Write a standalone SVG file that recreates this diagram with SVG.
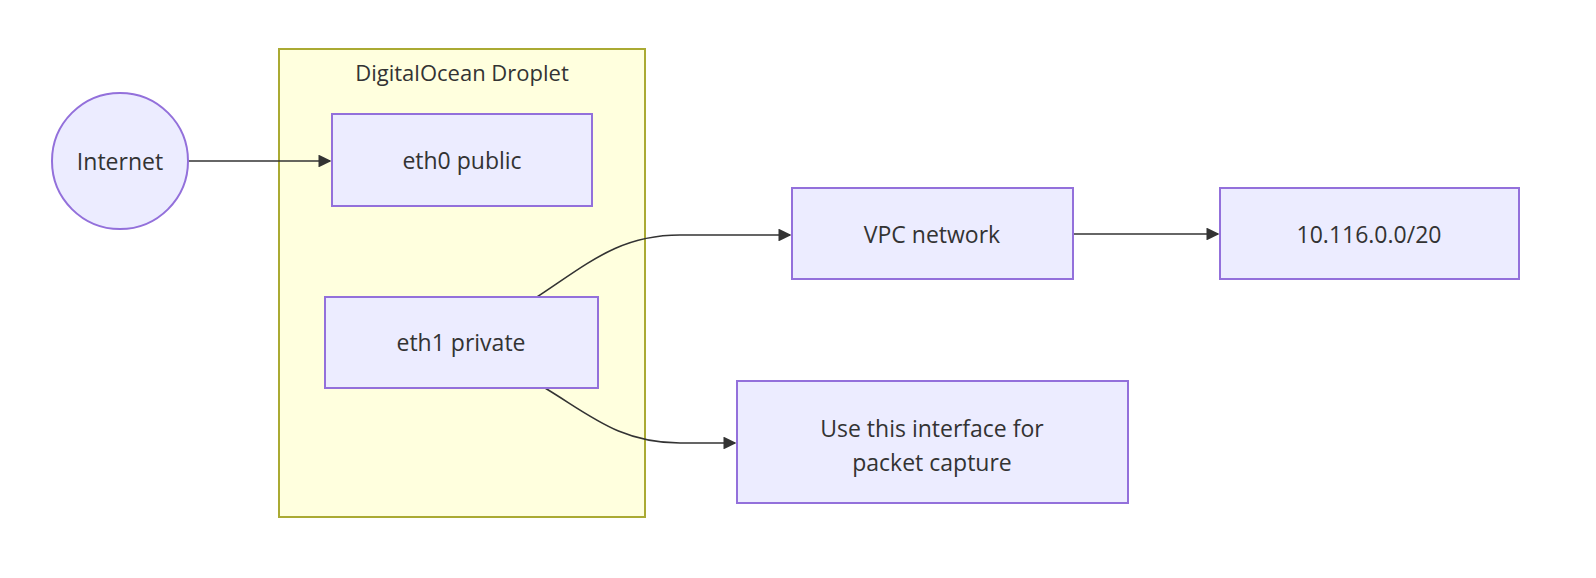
<svg xmlns="http://www.w3.org/2000/svg" width="1596" height="578" viewBox="0 0 1596 578">
<style>
.n{fill:#ECECFF;stroke:#9370DB;stroke-width:2}
.t{font-family:"Open Sans","Liberation Sans",sans-serif;font-size:23px;fill:#333;text-anchor:middle;dominant-baseline:central}
.e{fill:none;stroke:#333;stroke-width:1.6}
</style>
<defs><marker id="a" viewBox="0 0 10 10" refX="9" refY="5" markerWidth="8" markerHeight="8" orient="auto"><path d="M0,0L10,5L0,10z" fill="#333"/></marker></defs>
<rect width="1596" height="578" fill="#fff"/>
<g id="cluster"><rect x="279" y="49" width="366" height="468" fill="#ffffde" stroke="#aaaa33" stroke-width="2"/><text class="t" x="462" y="72" style="font-size:22px">DigitalOcean Droplet</text></g>
<g id="edges">
<path class="e" d="M188,161H330" marker-end="url(#a)"/>
<path class="e" d="M537,297C590,262 620,235 680,235H790" marker-end="url(#a)"/>
<path class="e" d="M1073,234H1218" marker-end="url(#a)"/>
<path class="e" d="M545,388C590,415 620,443 680,443H735" marker-end="url(#a)"/>
</g>
<g id="internet"><circle class="n" cx="120" cy="161" r="68"/><text class="t" x="120" y="161">Internet</text></g>
<g id="eth0"><rect class="n" x="332" y="114" width="260" height="92"/><text class="t" x="462" y="160">eth0 public</text></g>
<g id="eth1"><rect class="n" x="325" y="297" width="273" height="91"/><text class="t" x="461" y="342">eth1 private</text></g>
<g id="vpc"><rect class="n" x="792" y="188" width="281" height="91"/><text class="t" x="932" y="234">VPC network</text></g>
<g id="subnet"><rect class="n" x="1220" y="188" width="299" height="91"/><text class="t" x="1369" y="234">10.116.0.0/20</text></g>
<g id="capture"><rect class="n" x="737" y="381" width="391" height="122"/><text class="t" x="932" y="428">Use this interface for</text><text class="t" x="932" y="462">packet capture</text></g>
</svg>
